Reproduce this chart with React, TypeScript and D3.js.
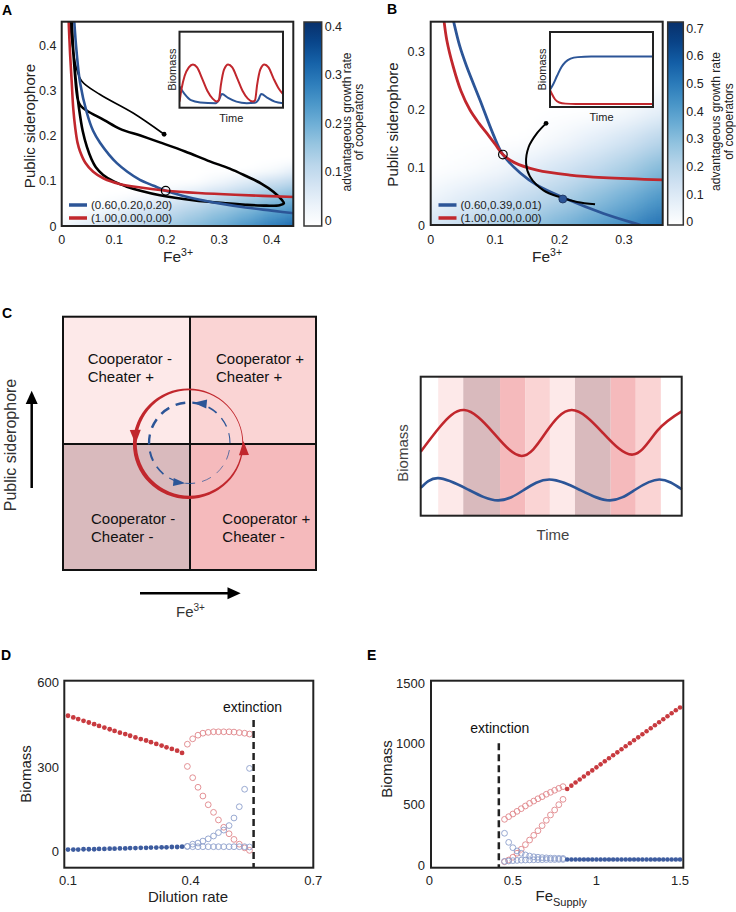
import React from "react";
import * as d3 from "d3";

type Pt = [number, number];

const FONT = "'Liberation Sans', Arial, Helvetica, sans-serif";
const INK = "#222";
const RED = "#c1272d";
const BLUE = "#2c5597";
const DOT_RED = "#c83a3f";
const DOT_BLUE = "#3d5c9f";
const OPEN_RED = "#e0868a";
const OPEN_BLUE = "#8d9fcc";

// ---------- Panel A : nullclines, trajectory, heat field ----------
const nullBlueA: Pt[] = [[0.0235, 0.46], [0.028, 0.39], [0.035, 0.317], [0.048, 0.25], [0.06, 0.21], [0.073, 0.184], [0.09, 0.158], [0.105, 0.139], [0.125, 0.12], [0.149, 0.102], [0.175, 0.089], [0.198, 0.078], [0.23, 0.067], [0.263, 0.058], [0.3, 0.05], [0.35, 0.041], [0.4, 0.034], [0.45, 0.027]];
const nullRedA: Pt[] = [[0.013, 0.46], [0.016, 0.38], [0.019, 0.32], [0.022, 0.26], [0.026, 0.215], [0.03, 0.185], [0.035, 0.165], [0.045, 0.14], [0.06, 0.12], [0.08, 0.105], [0.11, 0.093], [0.15, 0.085], [0.2, 0.078], [0.26, 0.073], [0.33, 0.069], [0.45, 0.064]];
const cycleA: Pt[] = [[0.017, 0.46], [0.021, 0.4], [0.025, 0.34], [0.028, 0.3], [0.031, 0.278], [0.036, 0.266], [0.048, 0.255], [0.08, 0.235], [0.111, 0.215], [0.15, 0.2], [0.187, 0.185], [0.235, 0.165], [0.282, 0.143], [0.32, 0.127], [0.352, 0.11], [0.38, 0.094], [0.403, 0.076], [0.419, 0.058], [0.423, 0.05], [0.415, 0.046], [0.39, 0.045], [0.35, 0.047], [0.314, 0.05], [0.25, 0.057], [0.187, 0.068], [0.15, 0.078], [0.124, 0.087], [0.1, 0.098], [0.079, 0.113], [0.065, 0.13], [0.057, 0.147], [0.048, 0.175], [0.04, 0.21], [0.033, 0.26], [0.027, 0.32], [0.022, 0.39], [0.019, 0.46]];
const transientA: Pt[] = [[0.195, 0.203], [0.136, 0.25], [0.073, 0.291], [0.038, 0.321], [0.027, 0.354], [0.019, 0.413], [0.015, 0.46]];
const startA: Pt = [0.195, 0.203];
const fixedA: Pt = [0.198, 0.078];
const legendA = ["(0.60,0.20,0.20)", "(1.00,0.00,0.00)"];
const heatAx = [0, 0.05, 0.1, 0.15, 0.2, 0.25, 0.3, 0.35, 0.4, 0.45];
const heatAy = [0, 0.025, 0.05, 0.075, 0.1, 0.125, 0.15];
const heatA = [
  [0.02, 0.05, 0.08, 0.11, 0.14, 0.17, 0.2, 0.24, 0.28, 0.32],
  [0, 0.02, 0.05, 0.08, 0.11, 0.14, 0.17, 0.2, 0.24, 0.27],
  [0, 0, 0.01, 0.04, 0.07, 0.1, 0.13, 0.16, 0.19, 0.22],
  [0, 0, 0, 0, 0.02, 0.05, 0.08, 0.11, 0.14, 0.17],
  [0, 0, 0, 0, 0, 0, 0.02, 0.05, 0.08, 0.11],
  [0, 0, 0, 0, 0, 0, 0, 0, 0.01, 0.04],
  [0, 0, 0, 0, 0, 0, 0, 0, 0, 0],
];
const ticksA = [0, 0.1, 0.2, 0.3, 0.4];
const cbarTicksA = [0, 0.1, 0.2, 0.3, 0.4];
// inset A (time 0-100, biomass 0-1)
const insetRedA: Pt[] = [[0, 0.08], [2, 0.25], [5, 0.42], [9, 0.53], [13, 0.57], [17, 0.53], [22, 0.38], [27, 0.22], [32, 0.12], [36, 0.08], [38, 0.1], [40, 0.3], [43, 0.5], [47, 0.57], [51, 0.53], [56, 0.38], [61, 0.22], [66, 0.12], [71, 0.08], [73, 0.1], [75, 0.3], [78, 0.5], [82, 0.57], [86, 0.53], [91, 0.38], [96, 0.25], [100, 0.18]];
const insetBlueA: Pt[] = [[0, 0.28], [5, 0.18], [11, 0.1], [20, 0.07], [35, 0.06], [38, 0.1], [41, 0.18], [47, 0.13], [55, 0.08], [65, 0.06], [73, 0.065], [76, 0.1], [79, 0.18], [85, 0.13], [92, 0.08], [100, 0.06]];

// ---------- Panel B ----------
const nullBlueB: Pt[] = [[0.034, 0.36], [0.045, 0.31], [0.056, 0.274], [0.0766, 0.216], [0.097, 0.157], [0.112, 0.122], [0.139, 0.09], [0.165, 0.069], [0.211, 0.045], [0.268, 0.02], [0.325, 0.0], [0.37, -0.015]];
const nullRedB: Pt[] = [[0.02, 0.36], [0.025, 0.32], [0.035, 0.274], [0.047, 0.232], [0.061, 0.199], [0.075, 0.176], [0.087, 0.159], [0.1, 0.14], [0.112, 0.122], [0.13, 0.108], [0.165, 0.095], [0.216, 0.0865], [0.268, 0.082], [0.37, 0.078]];
const trajB: Pt[] = [[0.179, 0.176], [0.165, 0.159], [0.152, 0.135], [0.148, 0.107], [0.154, 0.084], [0.175, 0.06], [0.201, 0.048], [0.227, 0.04], [0.255, 0.036]];
const startB: Pt = [0.179, 0.176];
const stableB: Pt = [0.205, 0.045];
const fixedB: Pt = [0.112, 0.122];
const legendB = ["(0.60,0.39,0.01)", "(1.00,0.00,0.00)"];
const heatBx = [0, 0.05, 0.1, 0.15, 0.2, 0.25, 0.3, 0.35, 0.4];
const heatBy = [0, 0.05, 0.1, 0.15, 0.2, 0.25, 0.3];
const heatB = [
  [0.12, 0.17, 0.22, 0.27, 0.33, 0.39, 0.45, 0.52, 0.58],
  [0.04, 0.08, 0.12, 0.17, 0.22, 0.28, 0.34, 0.41, 0.47],
  [0, 0.01, 0.03, 0.07, 0.12, 0.17, 0.23, 0.3, 0.36],
  [0, 0, 0, 0, 0.03, 0.07, 0.12, 0.19, 0.25],
  [0, 0, 0, 0, 0, 0, 0.02, 0.06, 0.12],
  [0, 0, 0, 0, 0, 0, 0, 0, 0.02],
  [0, 0, 0, 0, 0, 0, 0, 0, 0],
];
const ticksBx = [0, 0.1, 0.2, 0.3];
const ticksBy = [0, 0.1, 0.2, 0.3];
const cbarTicksB = [0, 0.1, 0.2, 0.3, 0.4, 0.5, 0.6, 0.7];
const insetBlueB: Pt[] = [[0, 0.23], [3, 0.3], [7, 0.42], [11, 0.53], [15, 0.6], [20, 0.645], [27, 0.665], [40, 0.672], [100, 0.672]];
const insetRedB: Pt[] = [[0, 0.23], [2, 0.17], [5, 0.1], [9, 0.06], [15, 0.045], [25, 0.04], [100, 0.04]];

// ---------- Panel C (right): biomass over time, quadrant stripes ----------
const stripeEdges = [6.7, 16.3, 30.4, 40, 49.5, 59.1, 72.8, 82.4, 92];
const stripeQuad = ["TL", "BL", "BR", "TR", "TL", "BL", "BR", "TR"];
const quadColor: Record<string, string> = { TL: "#fde9e9", TR: "#fad4d4", BL: "#d9babd", BR: "#f5babc" };
const timeRedC: Pt[] = [[0, 0.46], [7.4, 0.64], [16.7, 0.76], [27.7, 0.6], [38.7, 0.43], [48, 0.6], [57.9, 0.76], [69.6, 0.6], [81.3, 0.44], [90.6, 0.61], [100, 0.75]];
const timeBlueC: Pt[] = [[0, 0.2], [6.7, 0.27], [18, 0.19], [29.6, 0.11], [39.5, 0.185], [49.3, 0.26], [61, 0.185], [72.5, 0.11], [82, 0.185], [91.4, 0.26], [100, 0.19]];
const quadLabels = [
  { q: "TL", lines: ["Cooperator -", "Cheater +"] },
  { q: "TR", lines: ["Cooperator +", "Cheater +"] },
  { q: "BL", lines: ["Cooperator -", "Cheater -"] },
  { q: "BR", lines: ["Cooperator +", "Cheater -"] },
];

// ---------- Panel D : dilution rate bifurcation ----------
const dilFilled = [0.1, 0.113, 0.125, 0.138, 0.151, 0.164, 0.176, 0.189, 0.202, 0.214, 0.227, 0.24, 0.252, 0.265, 0.278, 0.291, 0.303, 0.316, 0.329, 0.341, 0.354, 0.367, 0.379];
const dRedFilled = [482, 476, 470, 464, 458, 452, 446, 440, 434, 428, 422, 417, 411, 405, 399, 394, 388, 382, 376, 370, 364, 358, 350];
const dBlueFilled = [7, 7, 7, 8, 8, 8, 9, 9, 10, 10, 11, 11, 12, 12, 13, 13, 14, 14, 15, 15, 16, 16, 17];
const dilOpen = [0.392, 0.405, 0.418, 0.43, 0.443, 0.456, 0.468, 0.481, 0.494, 0.506, 0.519, 0.532, 0.544];
const dRedUpper = [381, 400, 413, 420, 423, 425, 425, 425, 425, 424, 422, 420, 417];
const dRedLower = [302, 262, 228, 197, 166, 139, 112, 86, 63, 43, 26, 13, 4];
const dBlueUpper = [18, 26, 30, 37, 45, 55, 67, 76, 92, 119, 159, 221, 295];
const dBlueLower = [18, 17, 17, 17, 17, 17, 17, 17, 17, 17, 17, 17, 16];
const dExtinction = 0.554;
const dTicksX = [0.1, 0.4, 0.7];
const dTicksY = [0, 300, 600];

// ---------- Panel E : Fe supply bifurcation ----------
const feOpen = [0.45, 0.475, 0.5, 0.525, 0.55, 0.575, 0.6, 0.625, 0.65, 0.675, 0.7, 0.725, 0.75, 0.775, 0.8];
const eRedUpper = [377, 399, 421, 443, 465, 487, 509, 528, 547, 564, 584, 600, 617, 633, 647];
const eRedLower = [27, 41, 64, 97, 130, 168, 206, 245, 283, 325, 369, 413, 454, 498, 542];
const eBlueUpper = [262, 187, 143, 116, 97, 83, 74, 68, 64, 61, 59, 57, 56, 55, 54];
const eBlueLower = [30, 33, 36, 38, 40, 41, 42, 43, 44, 44, 45, 45, 45, 46, 46];
const feFilled = [0.825, 0.85, 0.875, 0.9, 0.925, 0.95, 0.975, 1.0, 1.025, 1.05, 1.075, 1.1, 1.125, 1.15, 1.175, 1.2, 1.225, 1.25, 1.275, 1.3, 1.325, 1.35, 1.375, 1.4, 1.425, 1.45, 1.475, 1.5];
const eRedFilled = [628, 655, 681, 706, 731, 756, 781, 806, 831, 856, 881, 906, 930, 955, 980, 1005, 1030, 1054, 1079, 1104, 1129, 1154, 1178, 1203, 1228, 1253, 1277, 1300];
const eBlueFilled = [46, 46, 46, 46, 46, 46, 46, 46, 46, 46, 46, 46, 46, 46, 46, 46, 46, 46, 46, 46, 46, 46, 46, 46, 46, 46, 46, 46];
const eExtinction = 0.416;
const eTicksX = [0, 0.5, 1, 1.5];
const eTicksY = [0, 500, 1000, 1500];

type Box = { l: number; t: number; r: number; b: number };
type Lin = d3.ScaleLinear<number, number>;

const blues = d3.interpolateRgbBasis(["#ffffff", "#deebf7", "#c6dbef", "#9ecae1", "#6baed6", "#4292c6", "#2171b5", "#08519c", "#08306b"]);

const fmt1 = (v: number) => (v === 0 ? "0" : v.toFixed(1));

function Heat({ id, gx, gy, rows, x, y, box, max, blur }: { id: string; gx: number[]; gy: number[]; rows: number[][]; x: Lin; y: Lin; box: Box; max: number; blur: string }) {
  const cx = gx.map((v) => x(v));
  const cy = gy.map((v) => y(v));
  const span = (c: number[], i: number) => {
    const s = Math.sign(c[1] - c[0]);
    const lo = i === 0 ? c[0] - s * 40 : (c[i - 1] + c[i]) / 2;
    const hi = i === c.length - 1 ? c[i] + s * 40 : (c[i] + c[i + 1]) / 2;
    return [Math.min(lo, hi), Math.max(lo, hi)];
  };
  return (
    <g>
      <defs>
        <clipPath id={`${id}-clip`}>
          <rect x={box.l} y={box.t} width={box.r - box.l} height={box.b - box.t} />
        </clipPath>
        <filter id={`${id}-blur`} filterUnits="userSpaceOnUse" x={box.l - 80} y={box.t - 80} width={box.r - box.l + 160} height={box.b - box.t + 160}>
          <feGaussianBlur stdDeviation={blur} />
        </filter>
      </defs>
      <g clipPath={`url(#${id}-clip)`}>
        <g filter={`url(#${id}-blur)`}>
          {rows.map((row, j) => {
            const [y0, y1] = span(cy, j);
            return row.map((v, i) => {
              const [x0, x1] = span(cx, i);
              return <rect key={`${i}-${j}`} x={x0} y={y0} width={x1 - x0 + 0.6} height={y1 - y0 + 0.6} fill={blues(Math.min(1, v / max))} />;
            });
          })}
        </g>
      </g>
    </g>
  );
}

function Colorbar({ id, box, scale, ticks, max, labelX }: { id: string; box: Box; scale: Lin; ticks: number[]; max: number; labelX: [number, number] }) {
  const stops = d3.range(0, 11).map((k) => {
    const v = scale.invert(box.b - (k / 10) * (box.b - box.t));
    return { off: k / 10, c: blues(Math.max(0, Math.min(1, v / max))) };
  });
  const cyMid = (box.t + box.b) / 2;
  return (
    <g>
      <defs>
        <linearGradient id={id} x1="0" y1="1" x2="0" y2="0">
          {stops.map((s) => (
            <stop key={s.off} offset={s.off} stopColor={s.c} />
          ))}
        </linearGradient>
      </defs>
      <rect x={box.l} y={box.t} width={box.r - box.l} height={box.b - box.t} fill={`url(#${id})`} stroke="#333" strokeWidth={1.5} />
      {ticks.map((t) => (
        <text key={t} x={box.r + 3} y={scale(t) + 4.5} fontSize={12.5} fill={INK}>
          {fmt1(t)}
        </text>
      ))}
      <text transform={`translate(${labelX[0]},${cyMid - 2}) rotate(-90)`} textAnchor="middle" fontSize={12} fill={INK}>
        advantageous growth rate
      </text>
      <text transform={`translate(${labelX[1]},${cyMid - 2}) rotate(-90)`} textAnchor="middle" fontSize={12} fill={INK}>
        of cooperators
      </text>
    </g>
  );
}

function Inset({ id, box, red, blue }: { id: string; box: Box; red: Pt[]; blue: Pt[] }) {
  const x = d3.scaleLinear().domain([0, 100]).range([box.l, box.r]);
  const y = d3.scaleLinear().domain([0, 1]).range([box.b, box.t]);
  const line = d3.line<Pt>().x((d) => x(d[0])).y((d) => y(d[1])).curve(d3.curveMonotoneX);
  return (
    <g>
      <defs>
        <clipPath id={id}>
          <rect x={box.l} y={box.t} width={box.r - box.l} height={box.b - box.t} />
        </clipPath>
      </defs>
      <rect x={box.l} y={box.t} width={box.r - box.l} height={box.b - box.t} fill="#fff" />
      <g clipPath={`url(#${id})`} fill="none" strokeWidth={2}>
        <path d={line(blue) || ""} stroke={BLUE} />
        <path d={line(red) || ""} stroke={RED} />
      </g>
      <rect x={box.l} y={box.t} width={box.r - box.l} height={box.b - box.t} fill="none" stroke={INK} strokeWidth={2} />
      <text transform={`translate(${box.l - 4},${(box.t + box.b) / 2}) rotate(-90)`} textAnchor="middle" fontSize={11} fill={INK}>
        Biomass
      </text>
      <text x={(box.l + box.r) / 2} y={box.b + 14} textAnchor="middle" fontSize={11} fill={INK}>
        Time
      </text>
    </g>
  );
}

function Legend({ x, y, labels }: { x: number; y: number; labels: string[] }) {
  return (
    <g>
      {labels.map((s, i) => (
        <g key={s + i}>
          <line x1={x} x2={x + 18} y1={y + i * 13} y2={y + i * 13} stroke={i === 0 ? BLUE : RED} strokeWidth={3.5} />
          <text x={x + 22} y={y + i * 13 + 4} fontSize={11.5} fill={INK}>
            {s}
          </text>
        </g>
      ))}
    </g>
  );
}

function PanelA() {
  const box: Box = { l: 61.7, t: 21.7, r: 293.3, b: 226 };
  const x = d3.scaleLinear().domain([0, 0.441]).range([box.l, box.r]);
  const y = d3.scaleLinear().domain([0, 0.452]).range([box.b, box.t]);
  const line = d3.line<Pt>().x((d) => x(d[0])).y((d) => y(d[1])).curve(d3.curveCatmullRom.alpha(0.5));
  const cb = d3.scaleLinear().domain([0, 0.4]).range([220, 26]);
  return (
    <g>
      <Heat id="hA" gx={heatAx} gy={heatAy} rows={heatA} x={x} y={y} box={box} max={0.4} blur="9 5" />
      <defs>
        <clipPath id="clipA">
          <rect x={box.l} y={box.t} width={box.r - box.l} height={box.b - box.t} />
        </clipPath>
      </defs>
      <g clipPath="url(#clipA)" fill="none">
        <path d={line(transientA) || ""} stroke="#000" strokeWidth={1.6} />
        <path d={line(cycleA) || ""} stroke="#000" strokeWidth={2.6} />
        <path d={line(nullBlueA) || ""} stroke={BLUE} strokeWidth={2.6} />
        <path d={line(nullRedA) || ""} stroke={RED} strokeWidth={2.6} />
      </g>
      <circle cx={x(startA[0])} cy={y(startA[1])} r={2.4} fill="#000" />
      <circle cx={x(fixedA[0])} cy={y(fixedA[1])} r={4.3} fill="none" stroke="#000" strokeWidth={1.2} />
      <Inset id="inA" box={{ l: 179.5, t: 31.7, r: 283, b: 107.7 }} red={insetRedA} blue={insetBlueA} />
      <Legend x={69} y={205} labels={legendA} />
      <rect x={box.l} y={box.t} width={box.r - box.l} height={box.b - box.t} fill="none" stroke={INK} strokeWidth={2} />
      {ticksA.map((t) => (
        <text key={"x" + t} x={x(t)} y={243.5} textAnchor="middle" fontSize={12.5} fill={INK}>
          {fmt1(t)}
        </text>
      ))}
      {ticksA.map((t) => (
        <text key={"y" + t} x={56.5} y={y(t) + 4.5} textAnchor="end" fontSize={12.5} fill={INK}>
          {fmt1(t)}
        </text>
      ))}
      <text transform={`translate(35,126) rotate(-90)`} textAnchor="middle" fontSize={15} fill={INK}>
        Public siderophore
      </text>
      <text x={163} y={261.5} fontSize={15.5} fill={INK}>
        Fe<tspan dy={-6} fontSize={10.5}>3+</tspan>
      </text>
      <Colorbar id="cbA" box={{ l: 304, t: 22, r: 321.7, b: 226 }} scale={cb} ticks={cbarTicksA} max={0.4} labelX={[350.5, 363]} />
      <text x={2} y={15} fontSize={14} fontWeight="bold" fill="#000">
        A
      </text>
    </g>
  );
}

function PanelB() {
  const box: Box = { l: 430.7, t: 21.7, r: 662.7, b: 225 };
  const x = d3.scaleLinear().domain([0, 0.36]).range([box.l, box.r]);
  const y = d3.scaleLinear().domain([0, 0.352]).range([box.b, box.t]);
  const line = d3.line<Pt>().x((d) => x(d[0])).y((d) => y(d[1])).curve(d3.curveCatmullRom.alpha(0.5));
  const cb = d3.scaleLinear().domain([0, 0.7]).range([221.7, 28.3]);
  return (
    <g>
      <Heat id="hB" gx={heatBx} gy={heatBy} rows={heatB} x={x} y={y} box={box} max={0.7} blur="12 11" />
      <defs>
        <clipPath id="clipB">
          <rect x={box.l} y={box.t} width={box.r - box.l} height={box.b - box.t} />
        </clipPath>
      </defs>
      <g clipPath="url(#clipB)" fill="none">
        <path d={line(nullBlueB) || ""} stroke={BLUE} strokeWidth={2.8} />
        <path d={line(nullRedB) || ""} stroke={RED} strokeWidth={2.8} />
        <path d={line(trajB) || ""} stroke="#000" strokeWidth={2} />
      </g>
      <circle cx={x(startB[0])} cy={y(startB[1])} r={2.4} fill="#000" />
      <circle cx={x(fixedB[0])} cy={y(fixedB[1])} r={4.3} fill="none" stroke="#000" strokeWidth={1.2} />
      <circle cx={x(stableB[0])} cy={y(stableB[1])} r={4} fill={BLUE} stroke="#1b2f55" strokeWidth={0.8} />
      <Inset id="inB" box={{ l: 550, t: 32, r: 653, b: 107 }} red={insetRedB} blue={insetBlueB} />
      <Legend x={438.5} y={205} labels={legendB} />
      <rect x={box.l} y={box.t} width={box.r - box.l} height={box.b - box.t} fill="none" stroke={INK} strokeWidth={2} />
      {ticksBx.map((t) => (
        <text key={"x" + t} x={x(t)} y={243.5} textAnchor="middle" fontSize={12.5} fill={INK}>
          {fmt1(t)}
        </text>
      ))}
      {ticksBy.map((t) => (
        <text key={"y" + t} x={425} y={y(t) + 4.5} textAnchor="end" fontSize={12.5} fill={INK}>
          {fmt1(t)}
        </text>
      ))}
      <text transform={`translate(398,124.5) rotate(-90)`} textAnchor="middle" fontSize={15} fill={INK}>
        Public siderophore
      </text>
      <text x={532} y={261.5} fontSize={15.5} fill={INK}>
        Fe<tspan dy={-6} fontSize={10.5}>3+</tspan>
      </text>
      <Colorbar id="cbB" box={{ l: 667.7, t: 22, r: 683.3, b: 225 }} scale={cb} ticks={cbarTicksB} max={0.7} labelX={[720, 733]} />
      <text x={387} y={14} fontSize={14} fontWeight="bold" fill="#000">
        B
      </text>
    </g>
  );
}

function arrowHead(cx: number, cy: number, r: number, deg: number, len: number, half: number) {
  const th = (deg * Math.PI) / 180;
  const tx = cx + r * Math.cos(th);
  const ty = cy - r * Math.sin(th);
  const dx = -Math.sin(th);
  const dy = -Math.cos(th);
  const bx = tx - dx * len;
  const by = ty - dy * len;
  return `M${tx},${ty}L${bx - dy * half},${by + dx * half}L${bx + dy * half},${by - dx * half}Z`;
}

function PanelCLeft() {
  const q = { l: 63, t: 316.7, r: 316, b: 570, mx: 190, my: 444 };
  const cx = 189.5;
  const cy = 443;
  const rIn = 52.8;
  const rOut = 55.2;
  const off = 1.6;
  const ring = d3.path();
  const ox = cx - 0.866 * off;
  const oy = cy + 0.5 * off;
  ring.moveTo(ox + rOut, oy);
  ring.arc(ox, oy, rOut, 0, 2 * Math.PI);
  ring.moveTo(cx + rIn, cy);
  ring.arc(cx, cy, rIn, 0, 2 * Math.PI);
  const rb = 40.5;
  const dashes = d3.range(0, 360, 24).map((a0) => {
    const a1 = a0 + 14;
    const p = d3.path();
    const t0 = (-a0 * Math.PI) / 180;
    const t1 = (-a1 * Math.PI) / 180;
    p.moveTo(cx + rb * Math.cos(t0), cy + rb * Math.sin(t0));
    p.arc(cx, cy, rb, t0, t1, true);
    const mid = ((a0 + 7 - 135) * Math.PI) / 180;
    return { d: p.toString(), w: 1.6 + 0.95 * Math.cos(mid), key: a0 };
  });
  const rects: Record<string, [number, number, number, number]> = {
    TL: [q.l, q.t, q.mx, q.my],
    TR: [q.mx, q.t, q.r, q.my],
    BL: [q.l, q.my, q.mx, q.b],
    BR: [q.mx, q.my, q.r, q.b],
  };
  const textPos: Record<string, [number, number]> = {
    TL: [87.7, 364],
    TR: [216, 364],
    BL: [91, 524],
    BR: [222.3, 524],
  };
  return (
    <g>
      {Object.entries(rects).map(([k, [x0, y0, x1, y1]]) => (
        <rect key={k} x={x0} y={y0} width={x1 - x0} height={y1 - y0} fill={quadColor[k]} />
      ))}
      {quadLabels.map((ql) =>
        ql.lines.map((s, i) => (
          <text key={ql.q + i} x={textPos[ql.q][0]} y={textPos[ql.q][1] + i * 18} fontSize={15} fill="#111">
            {s}
          </text>
        ))
      )}
      <line x1={q.mx} x2={q.mx} y1={q.t} y2={q.b} stroke="#111" strokeWidth={2} />
      <line x1={q.l} x2={q.r} y1={q.my} y2={q.my} stroke="#111" strokeWidth={2} />
      <rect x={q.l} y={q.t} width={q.r - q.l} height={q.b - q.t} fill="none" stroke="#111" strokeWidth={2} />
      <path d={ring.toString()} fill={RED} fillRule="evenodd" />
      <path d={arrowHead(cx, cy, 54, 181, 14, 5.5)} fill={RED} />
      <path d={arrowHead(cx, cy, 54, 2, 14, 5)} fill={RED} />
      {dashes.map((d) => (
        <path key={d.key} d={d.d} fill="none" stroke={BLUE} strokeWidth={d.w} />
      ))}
      <path d={arrowHead(cx, cy, rb, 84, 13, 4.5)} fill={BLUE} />
      <path d={arrowHead(cx, cy, rb, 264, 12, 4)} fill={BLUE} />
      <line x1={31.7} x2={31.7} y1={488} y2={402} stroke="#000" strokeWidth={2.5} />
      <path d="M31.7,390.7L25.7,404L37.7,404Z" fill="#000" />
      <line x1={140} x2={229} y1={593.3} y2={593.3} stroke="#000" strokeWidth={2.5} />
      <path d="M240.7,593.3L227.5,587.3L227.5,599.3Z" fill="#000" />
      <text transform={`translate(16,445) rotate(-90)`} textAnchor="middle" fontSize={16} fill="#333">
        Public siderophore
      </text>
      <text x={176} y={617} fontSize={15} fill="#333">
        Fe<tspan dy={-6} fontSize={10}>3+</tspan>
      </text>
      <text x={2} y={318} fontSize={14} fontWeight="bold" fill="#000">
        C
      </text>
    </g>
  );
}

function PanelCRight() {
  const box: Box = { l: 420.7, t: 376.7, r: 681.7, b: 515.7 };
  const x = d3.scaleLinear().domain([0, 100]).range([box.l, box.r]);
  const y = d3.scaleLinear().domain([0, 1]).range([box.b, box.t]);
  const line = d3.line<Pt>().x((d) => x(d[0])).y((d) => y(d[1])).curve(d3.curveNatural);
  return (
    <g>
      <rect x={box.l} y={box.t} width={box.r - box.l} height={box.b - box.t} fill="#fff" />
      {stripeQuad.map((k, i) => (
        <rect key={i} x={x(stripeEdges[i])} y={box.t} width={x(stripeEdges[i + 1]) - x(stripeEdges[i])} height={box.b - box.t} fill={quadColor[k]} />
      ))}
      <path d={line(timeRedC) || ""} fill="none" stroke={RED} strokeWidth={2.6} />
      <path d={line(timeBlueC) || ""} fill="none" stroke={BLUE} strokeWidth={2.6} />
      <rect x={box.l} y={box.t} width={box.r - box.l} height={box.b - box.t} fill="none" stroke={INK} strokeWidth={2} />
      <text transform={`translate(408,453) rotate(-90)`} textAnchor="middle" fontSize={15} fill="#444">
        Biomass
      </text>
      <text x={553} y={540} textAnchor="middle" fontSize={15} fill="#444">
        Time
      </text>
    </g>
  );
}

function Dots({ xs, ys, x, y, color, open, r }: { xs: number[]; ys: number[]; x: Lin; y: Lin; color: string; open?: boolean; r: number }) {
  return (
    <g>
      {xs.map((v, i) => (
        <circle key={i} cx={x(v)} cy={y(ys[i])} r={r} fill={open ? "none" : color} stroke={open ? color : "none"} strokeWidth={0.9} />
      ))}
    </g>
  );
}

function PanelD() {
  const box: Box = { l: 64.3, t: 680.7, r: 313.3, b: 867.7 };
  const x = d3.scaleLinear().domain([0.091, 0.7]).range([box.l, box.r]);
  const y = d3.scaleLinear().domain([0, 600]).range([851.5, 682.5]);
  return (
    <g>
      <Dots xs={dilOpen} ys={dRedUpper} x={x} y={y} color={OPEN_RED} open r={2.9} />
      <Dots xs={dilOpen} ys={dRedLower} x={x} y={y} color={OPEN_RED} open r={2.9} />
      <Dots xs={dilOpen} ys={dBlueUpper} x={x} y={y} color={OPEN_BLUE} open r={2.9} />
      <Dots xs={dilOpen} ys={dBlueLower} x={x} y={y} color={OPEN_BLUE} open r={2.9} />
      <Dots xs={dilFilled} ys={dRedFilled} x={x} y={y} color={DOT_RED} r={2.4} />
      <Dots xs={dilFilled} ys={dBlueFilled} x={x} y={y} color={DOT_BLUE} r={2.4} />
      <line x1={x(dExtinction)} x2={x(dExtinction)} y1={720} y2={box.b} stroke="#222" strokeWidth={2.5} strokeDasharray="7 4" />
      <text x={x(dExtinction) - 1} y={711.5} textAnchor="middle" fontSize={14} fill="#111">
        extinction
      </text>
      <rect x={box.l} y={box.t} width={box.r - box.l} height={box.b - box.t} fill="none" stroke={INK} strokeWidth={2} />
      {dTicksX.map((t) => (
        <text key={"x" + t} x={x(t)} y={885} textAnchor="middle" fontSize={13} fill={INK}>
          {t.toFixed(1)}
        </text>
      ))}
      {dTicksY.map((t) => (
        <text key={"y" + t} x={59} y={y(t) + 4.5} textAnchor="end" fontSize={13} fill={INK}>
          {t}
        </text>
      ))}
      <text transform={`translate(31,774) rotate(-90)`} textAnchor="middle" fontSize={15} fill={INK}>
        Biomass
      </text>
      <text x={188} y={902} textAnchor="middle" fontSize={15} fill={INK}>
        Dilution rate
      </text>
      <text x={1} y={660} fontSize={14} fontWeight="bold" fill="#000">
        D
      </text>
    </g>
  );
}

function PanelE() {
  const box: Box = { l: 431, t: 680.7, r: 683.3, b: 867.7 };
  const x = d3.scaleLinear().domain([0, 1.5]).range([429.3, 680]);
  const y = d3.scaleLinear().domain([0, 1500]).range([865, 683.3]);
  return (
    <g>
      <Dots xs={feOpen} ys={eRedUpper} x={x} y={y} color={OPEN_RED} open r={2.9} />
      <Dots xs={feOpen} ys={eRedLower} x={x} y={y} color={OPEN_RED} open r={2.9} />
      <Dots xs={feOpen} ys={eBlueUpper} x={x} y={y} color={OPEN_BLUE} open r={2.9} />
      <Dots xs={feOpen} ys={eBlueLower} x={x} y={y} color={OPEN_BLUE} open r={2.9} />
      <Dots xs={feFilled} ys={eRedFilled} x={x} y={y} color={DOT_RED} r={2.3} />
      <Dots xs={feFilled} ys={eBlueFilled} x={x} y={y} color={DOT_BLUE} r={2.3} />
      <line x1={x(eExtinction)} x2={x(eExtinction)} y1={y(1005)} y2={box.b} stroke="#222" strokeWidth={2.5} strokeDasharray="7 4" />
      <text x={x(eExtinction) + 1} y={733} textAnchor="middle" fontSize={14} fill="#111">
        extinction
      </text>
      <rect x={box.l} y={box.t} width={box.r - box.l} height={box.b - box.t} fill="none" stroke={INK} strokeWidth={2} />
      {eTicksX.map((t) => (
        <text key={"x" + t} x={x(t)} y={885} textAnchor="middle" fontSize={13} fill={INK}>
          {t}
        </text>
      ))}
      {eTicksY.map((t) => (
        <text key={"y" + t} x={425} y={y(t) + 4.5} textAnchor="end" fontSize={13} fill={INK}>
          {t}
        </text>
      ))}
      <text transform={`translate(392,769) rotate(-90)`} textAnchor="middle" fontSize={15} fill={INK}>
        Biomass
      </text>
      <text x={535.5} y={901} fontSize={15} fill={INK}>
        Fe<tspan dy={5} fontSize={11}>Supply</tspan>
      </text>
      <text x={367} y={660} fontSize={14} fontWeight="bold" fill="#000">
        E
      </text>
    </g>
  );
}

export default function App() {
  return (
    <svg width={736} height={912} viewBox="0 0 736 912" style={{ position: "absolute", left: 0, top: 0, fontFamily: FONT, background: "#fff" }}>
      <rect width={736} height={912} fill="#fff" />
      <PanelA />
      <PanelB />
      <PanelCLeft />
      <PanelCRight />
      <PanelD />
      <PanelE />
    </svg>
  );
}
